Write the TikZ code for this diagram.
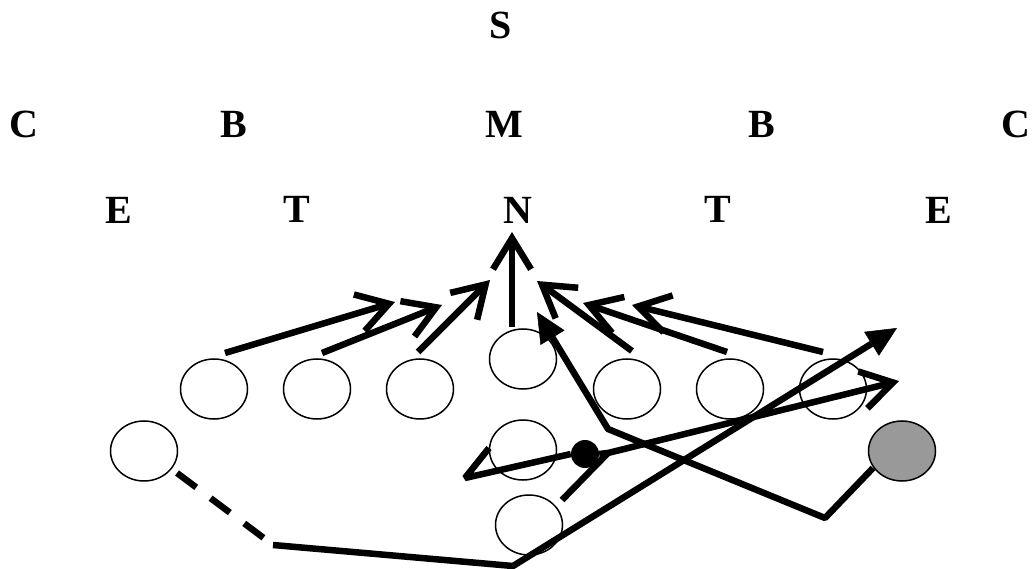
\documentclass[tikz,border=0pt]{standalone}
\usepackage{fontspec}
\setmainfont{Liberation Serif}
\usetikzlibrary{shapes.geometric,arrows.meta}
\tikzset{
  lbl/.style={font=\fontsize{40}{40}\selectfont\bfseries, inner sep=0pt, anchor=center},
  player/.style={ellipse, draw, line width=1.5pt, minimum width=67pt, minimum height=60pt, inner sep=0pt},
  route/.style={line width=6.5pt, line join=bevel},
  openarr/.style={route, -{Straight Barb[length=31pt,width=38pt,line join=miter]}},
  fillarr/.style={route, -{Triangle[length=30pt,width=28pt,line width=0.5pt]}},
}
\begin{document}
\begin{tikzpicture}[x=1pt,y=-1pt]
\useasboundingbox (0,0) rectangle (1034,569);
% labels
\node[lbl] (s) at (501,25) {S};
\node[lbl] (c1) at (24,124) {C};
\node[lbl] (b1) at (234,124) {B};
\node[lbl] (m) at (504,124) {M};
\node[lbl] (b2) at (762,124) {B};
\node[lbl] (c2) at (1016,124) {C};
\node[lbl] (e1) at (119,210) {E};
\node[lbl] (t1) at (297,209) {T};
\node[lbl] (n) at (518,210) {N};
\node[lbl] (t2) at (718,209) {T};
\node[lbl] (e2) at (939,210) {E};
% players
\node[player] (p1) at (214,389) {};
\node[player] (p2) at (317,389) {};
\node[player] (p3) at (420,389) {};
\node[player] (pc) at (523,359) {};
\node[player] (p5) at (627,389) {};
\node[player] (p6) at (730,389) {};
\node[player] (p7) at (833,389) {};
\node[player] (pl) at (144,451) {};
\node[player] (pm) at (523,450) {};
\node[player] (pb) at (529,525) {};
\node[player, fill={rgb,255:red,153;green,153;blue,153}] (pg) at (902,451) {};
\node[circle, fill=black, minimum size=28pt, inner sep=0pt] (dot) at (585,454) {};
% route points
\coordinate (a1s) at (225,353); \coordinate (a1e) at (395,302);
\coordinate (a2s) at (322,353); \coordinate (a2e) at (442,305);
\coordinate (a3s) at (418,352); \coordinate (a3e) at (490,280);
\coordinate (a4s) at (512,327); \coordinate (a4e) at (512,232);
\coordinate (a5s) at (632,351); \coordinate (a5e) at (537,281);
\coordinate (a6s) at (727,352); \coordinate (a6e) at (583,303);
\coordinate (a7s) at (823,352); \coordinate (a7e) at (632,305);
% blocking arrows
\draw[openarr] (a1s) -- (a1e);
\draw[openarr] (a2s) -- (a2e);
\draw[openarr] (a3s) -- (a3e);
\draw[openarr] (a4s) -- (a4e);
\draw[openarr] (a5s) -- (a5e);
\draw[openarr] (a6s) -- (a6e);
\draw[openarr] (a7s) -- (a7e);
% back route from left
\coordinate (ls) at (177,473);
\coordinate (lk) at (273,545);
\coordinate (lb) at (513,566);
\coordinate (lt) at (897,328);
\draw[route, dash pattern=on 24pt off 18pt] (ls) -- (lk);
\draw[fillarr] (lk) -- (lb) -- (lt);
% gray player route
\coordinate (gs) at (873,468);
\coordinate (gk) at (825,518);
\coordinate (gm) at (608,429);
\coordinate (gt) at (537,312);
\draw[fillarr] (gs) -- (gk) -- (gm) -- (gt);
% route from center back
\coordinate (ms) at (489,448);
\coordinate (mk) at (465,478);
\coordinate (mj) at (608,453);
\coordinate (mt) at (899,381);
\coordinate (bs) at (562,500);
\draw[route] (ms) -- (mk) -- (dot.west);
\draw[route] (dot.east) -- (mj);
\draw[openarr] (bs) -- (mj) -- (mt);
\end{tikzpicture}
\end{document}
